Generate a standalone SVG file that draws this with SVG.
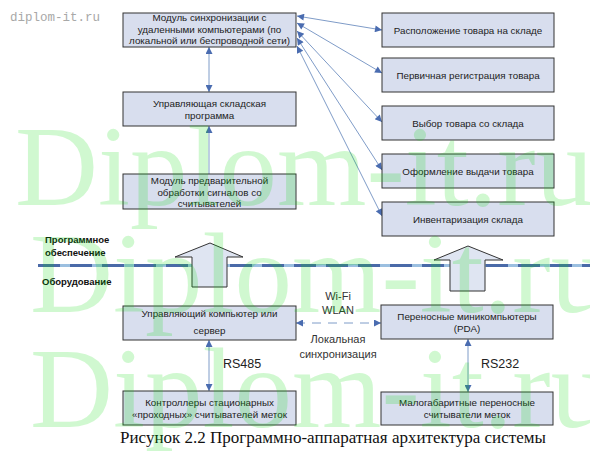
<svg xmlns="http://www.w3.org/2000/svg" width="590" height="460" viewBox="0 0 590 460">
<style>
.box{fill:#d8deee;stroke:#333;stroke-width:1}
.t{font-family:"Liberation Sans",Arial,sans-serif;font-size:9.8px;fill:#222;text-anchor:middle}
.lbl{font-family:"Liberation Sans",Arial,sans-serif;font-size:9.5px;font-weight:bold;fill:#111}
.net{font-family:"Liberation Sans",Arial,sans-serif;font-size:11px;fill:#333;text-anchor:middle}
.rs{font-family:"Liberation Sans",Arial,sans-serif;font-size:12.5px;fill:#222}
.c{stroke:#7f9cc8;stroke-width:1;fill:none}
.big{fill:#dfe5f2;stroke:#333;stroke-width:1}
.wm{font-family:"Liberation Serif","Times New Roman",serif;font-size:115px;fill:#00dd00;opacity:0.18}
</style>
<defs>
<marker id="ah" viewBox="0 0 10 10" refX="10" refY="5" markerWidth="9" markerHeight="7" markerUnits="userSpaceOnUse" orient="auto-start-reverse">
<path d="M0,0 L10,5 L0,10 z" fill="#4a6cb0"/>
</marker>
</defs>
<rect width="590" height="460" fill="#fff"/>
<text x="10" y="21" font-family="Liberation Mono,monospace" font-size="12.5" fill="#a8a8a8">diplom-it.ru</text>

<g id="divider">
<line x1="38" y1="265.5" x2="590" y2="265.5" stroke="#9bbfe0" stroke-width="3"/>
<line x1="38" y1="265.5" x2="590" y2="265.5" stroke="#4a6aa8" stroke-width="3" stroke-dasharray="22 10"/>
</g>

<g id="connectors">
<line class="c" x1="209" y1="47" x2="209" y2="92" marker-start="url(#ah)" marker-end="url(#ah)"/>
<line class="c" x1="209" y1="174" x2="209" y2="126" marker-end="url(#ah)"/>
<line class="c" x1="297" y1="16" x2="382" y2="30" marker-start="url(#ah)" marker-end="url(#ah)"/>
<line class="c" x1="297" y1="23" x2="382" y2="73" marker-start="url(#ah)" marker-end="url(#ah)"/>
<line class="c" x1="297" y1="31" x2="382" y2="122" marker-start="url(#ah)" marker-end="url(#ah)"/>
<line class="c" x1="297" y1="38" x2="382" y2="170" marker-start="url(#ah)" marker-end="url(#ah)"/>
<line class="c" x1="297" y1="46" x2="382" y2="216" marker-start="url(#ah)" marker-end="url(#ah)"/>
<line class="c" x1="209" y1="340" x2="209" y2="391" marker-start="url(#ah)" marker-end="url(#ah)"/>
<line class="c" x1="468" y1="339" x2="468" y2="392" marker-start="url(#ah)" marker-end="url(#ah)"/>
<line class="c" x1="296" y1="323" x2="381" y2="323" stroke-dasharray="9 7" marker-start="url(#ah)" marker-end="url(#ah)"/>
</g>

<g id="arrow-left"><path class="big" d="M210,243 L243,257 L227,257 L227,287 L192,287 L192,257 L175,257 Z"/></g>
<g id="arrow-right"><path class="big" d="M468,246 L503,260 L485,260 L485,291 L450,291 L450,260 L434,260 Z"/></g>

<g id="sync"><rect class="box" x="123" y="13" width="173" height="34"/>
<text class="t" x="209.5" y="21">Модуль синхронизации с</text>
<text class="t" x="209.5" y="32.5">удаленными компьютерами (по</text>
<text class="t" x="209.5" y="44">локальной или беспроводной сети)</text></g>

<g id="program"><rect class="box" x="123" y="92" width="173" height="34"/>
<text class="t" x="209.5" y="106.5">Управляющая складская</text>
<text class="t" x="209.5" y="118.5">программа</text></g>

<g id="preproc"><rect class="box" x="123" y="174" width="173" height="35"/>
<text class="t" x="209.5" y="183.5">Модуль предварительной</text>
<text class="t" x="209.5" y="195.5">обработки сигналов со</text>
<text class="t" x="209.5" y="206.5">считывателей</text></g>

<g id="r1"><rect class="box" x="382" y="13" width="172" height="34"/><text class="t" x="468" y="33.5">Расположение товара на складе</text></g>
<g id="r2"><rect class="box" x="382" y="58" width="172" height="34"/><text class="t" x="468" y="78.5">Первичная регистрация товара</text></g>
<g id="r3"><rect class="box" x="382" y="106" width="172" height="34"/><text class="t" x="468" y="126.5">Выбор товара со склада</text></g>
<g id="r4"><rect class="box" x="382" y="154" width="172" height="34"/><text class="t" x="468" y="174.5">Оформление выдачи товара</text></g>
<g id="r5"><rect class="box" x="382" y="202" width="172" height="34"/><text class="t" x="468" y="222.5">Инвентаризация склада</text></g>

<g id="server"><rect class="box" x="123" y="306" width="173" height="34"/>
<text class="t" x="209.5" y="316.5">Управляющий компьютер или</text>
<text class="t" x="209.5" y="333.5">сервер</text></g>

<g id="pda"><rect class="box" x="381" y="305" width="172" height="34"/>
<text class="t" x="467" y="319.5">Переносные миникомпьютеры</text>
<text class="t" x="467" y="331.5">(PDA)</text></g>

<g id="controllers"><rect class="box" x="123" y="391" width="173" height="34"/>
<text class="t" x="209.5" y="406">Контроллеры стационарных</text>
<text class="t" x="209.5" y="417.5">«проходных» считывателей меток</text></g>

<g id="readers"><rect class="box" x="381" y="392" width="172" height="33"/>
<text class="t" x="467" y="406">Малогабаритные переносные</text>
<text class="t" x="467" y="417.5">считыватели меток</text></g>

<g id="labels">
<text class="lbl" x="45" y="243">Программное</text>
<text class="lbl" x="45" y="256">обеспечение</text>
<text class="lbl" x="42" y="285">Оборудование</text>
<text class="net" x="338" y="300">Wi-Fi</text>
<text class="net" x="338" y="314">WLAN</text>
<text class="net" x="338" y="343">Локальная</text>
<text class="net" x="338" y="358">синхронизация</text>
<text class="rs" x="223" y="368">RS485</text>
<text class="rs" x="481" y="368">RS232</text>
<text x="333" y="443" text-anchor="middle" font-family="Liberation Serif,'Times New Roman',serif" font-size="17" fill="#111">Рисунок 2.2 Программно-аппаратная архитектура системы</text>
</g>

<g id="watermark">
<text class="wm" x="15" y="205">Diplom-it.ru</text>
<text class="wm" x="30" y="312">Diplom-it.ru</text>
<text class="wm" x="30" y="427">Diplom-it.ru</text>
</g>
</svg>
